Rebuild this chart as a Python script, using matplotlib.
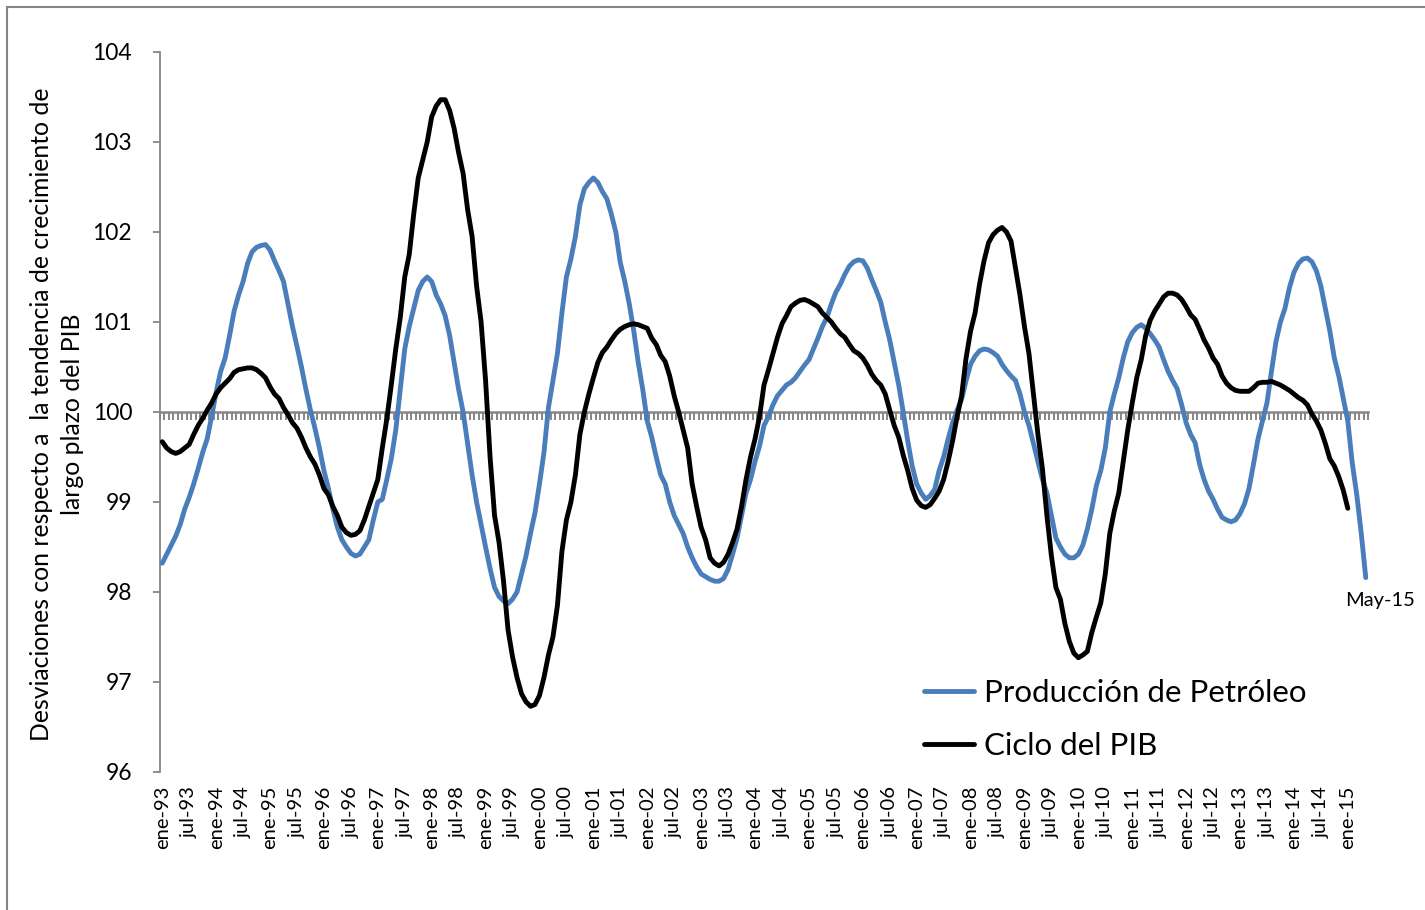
import numpy as np
import matplotlib
matplotlib.use("Agg")
import matplotlib.pyplot as plt
from matplotlib.patches import Rectangle

plt.rcParams['font.family'] = ['Lato', 'DejaVu Sans']

## monthly series, ene-93 .. may-15 (petroleo) and ene-93 .. ene-15 (PIB)
petroleo = [
  98.32, 98.42, 98.52, 98.62, 98.75, 98.92, 99.05, 99.20, 99.37, 99.55, 99.70, 99.95,   # 93
  100.22, 100.45, 100.60, 100.85, 101.12, 101.30, 101.45, 101.65, 101.78, 101.83, 101.85, 101.86,  # 94
  101.80, 101.68, 101.57, 101.45, 101.20, 100.95, 100.73, 100.50, 100.25, 100.02, 99.82, 99.60,  # 95
  99.35, 99.15, 98.92, 98.72, 98.58, 98.50, 98.43, 98.40, 98.42, 98.50, 98.58, 98.80,   # 96
  99.00, 99.03, 99.25, 99.48, 99.80, 100.25, 100.70, 100.95, 101.15, 101.35, 101.45, 101.50,  # 97
  101.45, 101.30, 101.20, 101.07, 100.85, 100.55, 100.25, 100.00, 99.65, 99.30, 99.00, 98.75,  # 98
  98.50, 98.26, 98.05, 97.95, 97.90, 97.87, 97.92, 98.00, 98.20, 98.40, 98.65, 98.88,   # 99
  99.20, 99.55, 100.05, 100.35, 100.65, 101.10, 101.50, 101.70, 101.95, 102.30, 102.48, 102.55,  # 00
  102.60, 102.55, 102.45, 102.37, 102.20, 102.00, 101.66, 101.45, 101.20, 100.90, 100.55, 100.25,  # 01
  99.90, 99.72, 99.50, 99.30, 99.20, 99.00, 98.85, 98.75, 98.65, 98.50, 98.38, 98.28,   # 02
  98.20, 98.17, 98.14, 98.12, 98.12, 98.15, 98.25, 98.42, 98.60, 98.85, 99.10, 99.25,   # 03
  99.45, 99.62, 99.85, 99.95, 100.08, 100.18, 100.24, 100.30, 100.33, 100.38, 100.45, 100.52,  # 04
  100.58, 100.70, 100.82, 100.95, 101.05, 101.20, 101.33, 101.42, 101.53, 101.62, 101.67, 101.69,  # 05
  101.68, 101.60, 101.47, 101.35, 101.22, 101.00, 100.80, 100.55, 100.30, 100.00, 99.68, 99.40,  # 06
  99.20, 99.10, 99.03, 99.07, 99.14, 99.35, 99.50, 99.70, 99.88, 100.02, 100.14, 100.35,  # 07
  100.53, 100.62, 100.68, 100.70, 100.69, 100.66, 100.62, 100.53, 100.46, 100.40, 100.35, 100.20,  # 08
  100.00, 99.85, 99.65, 99.45, 99.25, 99.10, 98.85, 98.60, 98.50, 98.42, 98.38, 98.38,   # 09
  98.42, 98.52, 98.70, 98.92, 99.18, 99.35, 99.60, 100.00, 100.20, 100.38, 100.60, 100.78,  # 10
  100.88, 100.94, 100.97, 100.93, 100.87, 100.80, 100.72, 100.58, 100.45, 100.35, 100.26, 100.08,  # 11
  99.88, 99.75, 99.66, 99.42, 99.25, 99.12, 99.03, 98.92, 98.83, 98.80, 98.78, 98.80,   # 12
  98.87, 98.98, 99.15, 99.42, 99.70, 99.90, 100.10, 100.45, 100.78, 101.00, 101.15, 101.38,  # 13
  101.55, 101.65, 101.70, 101.71, 101.67, 101.57, 101.40, 101.15, 100.90, 100.60, 100.40, 100.15,  # 14
  99.90, 99.43, 99.08, 98.65, 98.16,   # 15
]
pib = [
  99.67, 99.60, 99.56, 99.54, 99.56, 99.60, 99.64, 99.75, 99.85, 99.93, 100.02, 100.10,  # 93
  100.20, 100.27, 100.32, 100.37, 100.44, 100.47, 100.48, 100.49, 100.49, 100.47, 100.43, 100.38,  # 94
  100.28, 100.20, 100.15, 100.05, 99.97, 99.88, 99.82, 99.72, 99.60, 99.50, 99.42, 99.30,  # 95
  99.15, 99.08, 98.95, 98.85, 98.72, 98.66, 98.63, 98.64, 98.68, 98.80, 98.95, 99.10,   # 96
  99.25, 99.60, 99.92, 100.30, 100.70, 101.05, 101.50, 101.75, 102.20, 102.60, 102.80, 103.00,  # 97
  103.28, 103.40, 103.47, 103.47, 103.35, 103.15, 102.88, 102.65, 102.25, 101.95, 101.40, 101.00,  # 98
  100.35, 99.50, 98.85, 98.55, 98.12, 97.58, 97.28, 97.05, 96.87, 96.78, 96.73, 96.75,   # 99
  96.85, 97.05, 97.30, 97.50, 97.85, 98.45, 98.80, 99.00, 99.30, 99.75, 100.00, 100.20,  # 00
  100.38, 100.55, 100.66, 100.72, 100.80, 100.87, 100.92, 100.95, 100.97, 100.98, 100.97, 100.95,  # 01
  100.93, 100.82, 100.75, 100.63, 100.56, 100.40, 100.18, 100.00, 99.80, 99.60, 99.20, 98.95,  # 02
  98.72, 98.58, 98.38, 98.32, 98.29, 98.33, 98.42, 98.55, 98.70, 98.95, 99.25, 99.50,   # 03
  99.70, 99.95, 100.30, 100.47, 100.65, 100.83, 100.98, 101.07, 101.17, 101.21, 101.24, 101.25,  # 04
  101.23, 101.20, 101.17, 101.10, 101.05, 101.00, 100.93, 100.87, 100.83, 100.75, 100.68, 100.65,  # 05
  100.60, 100.52, 100.42, 100.35, 100.30, 100.20, 100.02, 99.85, 99.72, 99.52, 99.35, 99.15,  # 06
  99.02, 98.96, 98.94, 98.97, 99.04, 99.12, 99.25, 99.45, 99.68, 99.95, 100.18, 100.60,  # 07
  100.90, 101.10, 101.42, 101.68, 101.88, 101.97, 102.02, 102.05, 102.00, 101.90, 101.60, 101.30,  # 08
  100.95, 100.65, 100.20, 99.75, 99.37, 98.85, 98.40, 98.05, 97.92, 97.65, 97.45, 97.32,   # 09
  97.27, 97.30, 97.34, 97.55, 97.72, 97.88, 98.20, 98.65, 98.90, 99.10, 99.45, 99.80,   # 10
  100.10, 100.38, 100.58, 100.85, 101.02, 101.12, 101.20, 101.28, 101.32, 101.32, 101.30, 101.25,  # 11
  101.17, 101.08, 101.03, 100.92, 100.80, 100.71, 100.60, 100.53, 100.40, 100.32, 100.27, 100.24,  # 12
  100.23, 100.23, 100.23, 100.27, 100.32, 100.33, 100.33, 100.34, 100.32, 100.30, 100.27, 100.24,  # 13
  100.20, 100.16, 100.13, 100.08, 99.98, 99.90, 99.80, 99.65, 99.48, 99.40, 99.28, 99.13,  # 14
  98.93,  # 15
]
years = list(range(93, 100)) + list(range(0, 16))
tick_labels = []
for y in years:
  tick_labels.append("ene-%02d" % y)
  tick_labels.append("jul-%02d" % y)
tick_labels = tick_labels[:45]   # up to ene-15
last_label = "May-15"

BLUE = "#4a7ebb"
GRAY = "#868686"

fig = plt.figure(figsize=(14.25, 9.1), dpi=100)
W, H = 1425, 910
ax = fig.add_axes([160/W, 1-772/H, 1208/W, 720/H])

n = len(petroleo)
ax.plot(range(n), petroleo, color=BLUE, lw=3.5, solid_capstyle="round",
  solid_joinstyle="round", label="Producción de Petróleo", zorder=3)
ax.plot(range(len(pib)), pib, color="black", lw=3.5, solid_capstyle="round",
  solid_joinstyle="round", label="Ciclo del PIB", zorder=4)

ax.set_xlim(-0.5, n - 0.5)
ax.set_ylim(96, 104)
ax.set_yticks(range(96, 105))
ax.tick_params(axis="y", length=5, width=1.3, color=GRAY, pad=15, labelsize=16.5)

for s in ["top", "right"]:
  ax.spines[s].set_visible(False)
ax.spines["left"].set_color(GRAY)
ax.spines["left"].set_linewidth(1.3)
ax.spines["bottom"].set_position(("data", 100))
ax.spines["bottom"].set_color(GRAY)
ax.spines["bottom"].set_linewidth(1.8)
ax.set_xticks([])
ax.set_xticks(np.arange(-0.5, n, 1), minor=True)
ax.tick_params(axis="x", which="minor", length=6, width=1.4, color=GRAY,
  direction="out")

# category labels at the bottom of the plot area
sec = ax.secondary_xaxis("bottom")
sec.set_xticks(range(0, 6*len(tick_labels), 6), tick_labels)
sec.tick_params(length=0, pad=10, labelsize=14.5, labelrotation=90)
sec.spines["bottom"].set_visible(False)

ax.annotate(last_label, (n-1, petroleo[-1]), xytext=(10, -16.5),
  textcoords="offset points", ha="center", va="center", fontsize=14.5)

fig.text(57/W, 1-414/H,
  "Desviaciones con respecto a  la tendencia de crecimiento de\nlargo plazo del PIB",
  rotation=90, ha="center", va="center", multialignment="center",
  fontsize=17.8, linespacing=1.38)

ax.legend(loc="upper left", bbox_to_anchor=(924/W, 1-679/H),
  bbox_transform=fig.transFigure, frameon=False, fontsize=22.5,
  handlelength=1.6, handletextpad=0.32, labelspacing=0.8,
  borderpad=0, borderaxespad=0)

# chart border (top and left visible)
fig.patches.append(Rectangle((7/W, -0.1), 2, 1.1 - 7/H, transform=fig.transFigure,
  fill=False, edgecolor=GRAY, lw=1.5))

fig.savefig("out.png", dpi=100)
